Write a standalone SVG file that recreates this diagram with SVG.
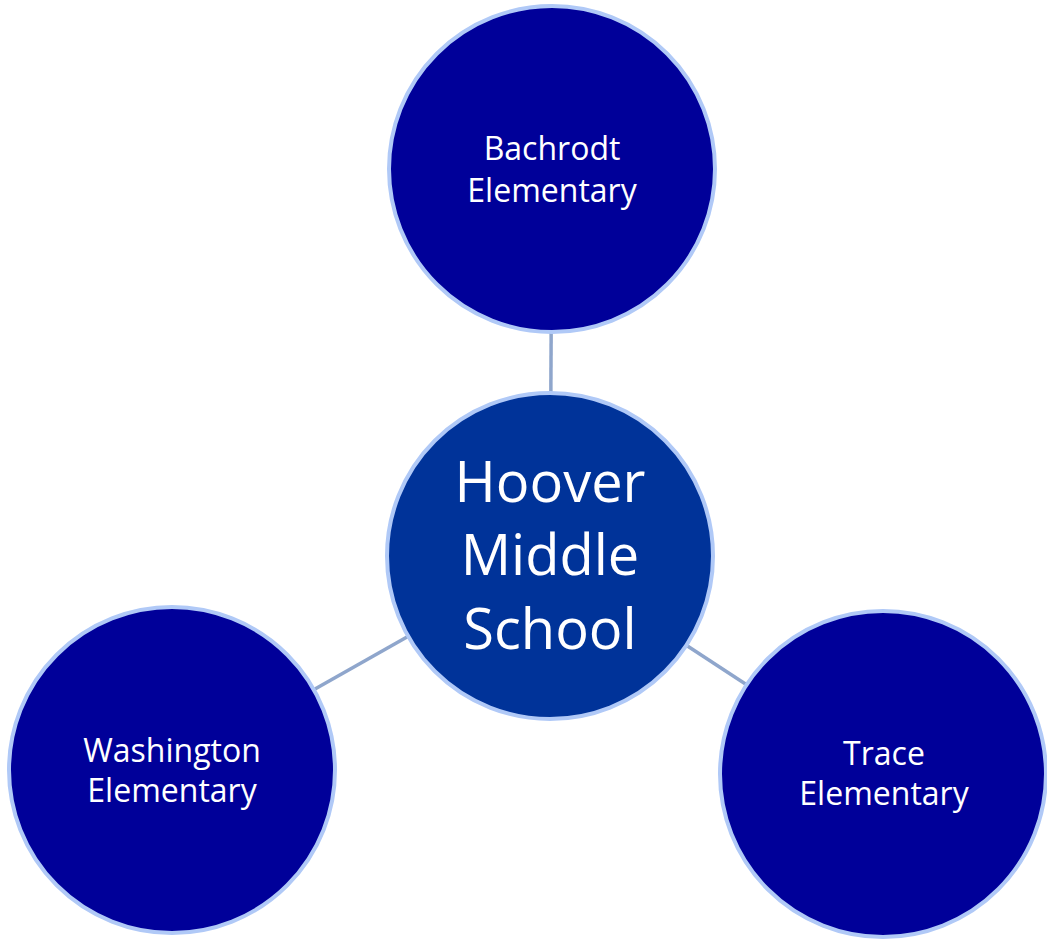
<svg xmlns="http://www.w3.org/2000/svg" width="1047" height="944" viewBox="0 0 1047 944">
<style>
.conn{stroke:#8FA6CC;stroke-width:3.5;fill:none}
.node{stroke:#B0C9F7;stroke-width:4}
.sat{fill:#000099}
.hub{fill:#003399}
text{font-family:"Open Sans","Liberation Sans",sans-serif;fill:#FFFFFF;text-anchor:middle}
.s{font-size:32px}
.b{font-size:56px}
</style>
<rect width="1047" height="944" fill="#FFFFFF"/>
<g id="connectors">
<line class="conn" x1="550" y1="556" x2="552" y2="169"/>
<line class="conn" x1="550" y1="556" x2="172" y2="770"/>
<line class="conn" x1="550" y1="556" x2="883" y2="774"/>
</g>
<g id="bachrodt">
<circle class="node sat" cx="552" cy="169" r="163"/>
<text class="s" x="552" y="160">Bachrodt</text>
<text class="s" x="552" y="202">Elementary</text>
</g>
<g id="hoover">
<circle class="node hub" cx="550" cy="556" r="163"/>
<text class="b" x="550" y="502">Hoover</text>
<text class="b" x="550" y="575">Middle</text>
<text class="b" x="550" y="649">School</text>
</g>
<g id="washington">
<circle class="node sat" cx="172" cy="770" r="163"/>
<text class="s" x="172" y="762">Washington</text>
<text class="s" x="172" y="802">Elementary</text>
</g>
<g id="trace">
<circle class="node sat" cx="883" cy="774" r="163"/>
<text class="s" x="884" y="765">Trace</text>
<text class="s" x="884" y="805">Elementary</text>
</g>
</svg>
